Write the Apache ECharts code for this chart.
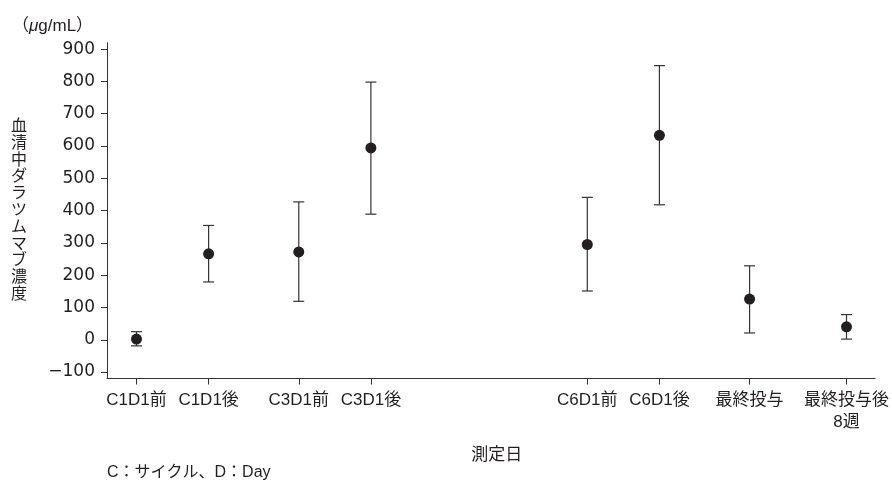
<!DOCTYPE html>
<html>
<head>
<meta charset="utf-8">
<script src="https://cdn.jsdelivr.net/npm/echarts@6/dist/echarts.min.js"></script>
<style>html,body{margin:0;padding:0;background:#fff}#c{width:892px;height:481px}</style>
</head>
<body>
<div id="c"></div>
<script>
var categories = ['C1D1前', 'C1D1後', 'C3D1前', 'C3D1後', 'C6D1前', 'C6D1後', '最終投与', '最終投与後\n8週'];
var slots = [0, 8, 18, 26, 50, 58, 68, 78.75];
var means = [2, 266, 272, 594, 295, 633, 126, 40];
var upper = [25, 354, 427, 798, 441, 849, 229, 78];
var lower = [-19, 179, 119, 389, 151, 418, 21, 2];
var yTicks = [-100, 0, 100, 200, 300, 400, 500, 600, 700, 800, 900];

var FONT = "'Liberation Sans', 'Noto Sans CJK JP', sans-serif";
var NUMFONT = "'DejaVu Sans', 'Liberation Sans', sans-serif";
var TXT = '#231f20';

var pointData = slots.map(function (s, i) { return [s, means[i]]; });
var barData = slots.map(function (s, i) { return [s, lower[i], upper[i]]; });

var chart = echarts.init(document.getElementById('c'), null, {renderer: 'canvas'});
chart.setOption({
  animation: false,
  backgroundColor: '#fff',
  grid: {left: 107, right: 10.3, top: 42.7, bottom: 102.5, containLabel: false},
  xAxis: {
    type: 'value',
    min: -3.27,
    max: 81.93,
    splitLine: {show: false},
    axisLine: {show: true, onZero: false, lineStyle: {color: '#333', width: 1}},
    axisTick: {show: true, length: 6, customValues: slots, lineStyle: {color: '#333'}},
    axisLabel: {
      customValues: slots,
      margin: 11,
      fontSize: 17,
      lineHeight: 22,
      color: TXT,
      fontFamily: FONT,
      formatter: function (v) {
        var idx = slots.indexOf(v);
        return idx >= 0 ? categories[idx] : '';
      }
    }
  },
  yAxis: {
    type: 'value',
    min: -120,
    max: 920,
    splitLine: {show: false},
    axisLine: {show: true, onZero: false, lineStyle: {color: '#333', width: 1}},
    axisTick: {show: true, length: 6, customValues: yTicks, lineStyle: {color: '#333'}},
    axisLabel: {
      customValues: yTicks,
      margin: 12,
      fontSize: 17,
      color: TXT,
      fontFamily: NUMFONT,
      formatter: function (v) { return v < 0 ? '\u2212' + Math.abs(v) : String(v); }
    }
  },
  graphic: [
    {
      type: 'text', x: 19, y: 210.5,
      style: {
        text: '血清中ダラツムマブ濃度'.split('').join('\n'),
        fontSize: 16, lineHeight: 16.8, fontFamily: FONT, fill: TXT,
        align: 'center', verticalAlign: 'middle'
      }
    },
    {
      type: 'text', x: 12, y: 26,
      style: {
        text: '（{i|μ}g/mL）',
        rich: {i: {fontStyle: 'italic', fontSize: 17, fontFamily: FONT, fill: TXT}},
        fontSize: 17, fontFamily: FONT, fill: TXT,
        align: 'left', verticalAlign: 'middle'
      }
    },
    {
      type: 'text', x: 496.7, y: 455,
      style: {
        text: '測定日', fontSize: 17, fontFamily: FONT, fill: TXT,
        align: 'center', verticalAlign: 'middle'
      }
    },
    {
      type: 'text', x: 107, y: 473,
      style: {
        text: 'C：サイクル、D：Day', fontSize: 16, fontFamily: FONT, fill: TXT,
        align: 'left', verticalAlign: 'middle'
      }
    }
  ],
  series: [
    {
      type: 'custom',
      data: barData,
      z: 2,
      renderItem: function (params, api) {
        var x = api.value(0), lo = api.value(1), hi = api.value(2);
        var pTop = api.coord([x, hi]);
        var pBot = api.coord([x, lo]);
        var w = 5.5;
        var st = {stroke: '#333', lineWidth: 1.2};
        return {
          type: 'group',
          children: [
            {type: 'line', shape: {x1: pTop[0], y1: pTop[1], x2: pBot[0], y2: pBot[1]}, style: st},
            {type: 'line', shape: {x1: pTop[0] - w, y1: pTop[1], x2: pTop[0] + w, y2: pTop[1]}, style: st},
            {type: 'line', shape: {x1: pBot[0] - w, y1: pBot[1], x2: pBot[0] + w, y2: pBot[1]}, style: st}
          ]
        };
      }
    },
    {
      type: 'scatter',
      data: pointData,
      z: 3,
      symbol: 'circle',
      symbolSize: 11,
      itemStyle: {color: '#231f20', opacity: 1}
    }
  ]
});
</script>
</body>
</html>
